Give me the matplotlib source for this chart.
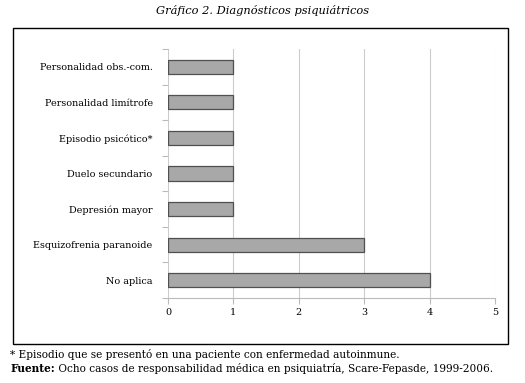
import matplotlib
matplotlib.use('Agg')
import matplotlib.pyplot as plt
import matplotlib.patches as mpatches
from matplotlib.ticker import FixedLocator

plt.rcParams['font.family'] = ['DejaVu Serif']

# datos
diagnosticos = ['No aplica', 'Esquizofrenia paranoide', 'Depresión mayor',
                'Duelo secundario', 'Episodio psicótico*',
                'Personalidad limítrofe', 'Personalidad obs.-com.']
casos = [4, 3, 1, 1, 1, 1, 1]
x_ticks = [0, 1, 2, 3, 4, 5]

titulo = 'Gráfico 2. Diagnósticos psiquiátricos'
nota = '* Episodio que se presentó en una paciente con enfermedad autoinmune.'
fuente_lbl = 'Fuente:'
fuente_txt = ' Ocho casos de responsabilidad médica en psiquiatría, Scare-Fepasde, 1999-2006.'

fig = plt.figure(figsize=(5.25, 3.83), dpi=100)
W, H = 525, 383
ax = fig.add_axes([168 / W, 1 - 298 / H, (495 - 168) / W, (298 - 49) / H])

y = range(len(diagnosticos))
ax.barh(y, casos, height=0.4, color='#a8a8a8', edgecolor='#505050',
        linewidth=0.9, zorder=3)

ax.set_xlim(0, 5)
ax.set_ylim(-0.5, len(diagnosticos) - 0.5)
ax.set_xticks(x_ticks)
ax.set_yticks(list(y))
ax.set_yticklabels(diagnosticos, fontsize=6.9)
ax.yaxis.set_minor_locator(FixedLocator([i - 0.5 for i in range(len(diagnosticos) + 1)]))
ax.tick_params(axis='y', which='major', length=0, pad=11)
ax.tick_params(axis='y', which='minor', length=4, color='#bbbbbb', width=0.8)
ax.tick_params(axis='x', length=4, color='#bbbbbb', width=0.8, labelsize=6.9, pad=3)
ax.grid(axis='x', color='#cccccc', linewidth=0.8, zorder=0)

for s in ['top', 'right', 'left']:
    ax.spines[s].set_visible(False)
ax.spines['bottom'].set_color('#bbbbbb')
ax.spines['bottom'].set_linewidth(0.8)

# marco exterior
marco = mpatches.Rectangle((13 / W, 1 - 344 / H), (508 - 13) / W, (344 - 28) / H,
                           transform=fig.transFigure, fill=False,
                           edgecolor='black', linewidth=1.0)
fig.add_artist(marco)

fig.text(0.5, 1 - 10 / H, titulo, ha='center', va='center',
         fontsize=8.2, style='italic')

fig.text(10 / W, 1 - 355 / H, nota, ha='left', va='center', fontsize=7.6)
t = fig.text(10 / W, 1 - 368 / H, fuente_lbl, ha='left', va='center',
             fontsize=7.6, fontweight='bold')
fig.canvas.draw()
bb = t.get_window_extent(fig.canvas.get_renderer())
fig.text(bb.x1 / W, 1 - 368 / H, fuente_txt, ha='left', va='center', fontsize=7.6)

plt.savefig('out.png', dpi=100)
plt.close()
